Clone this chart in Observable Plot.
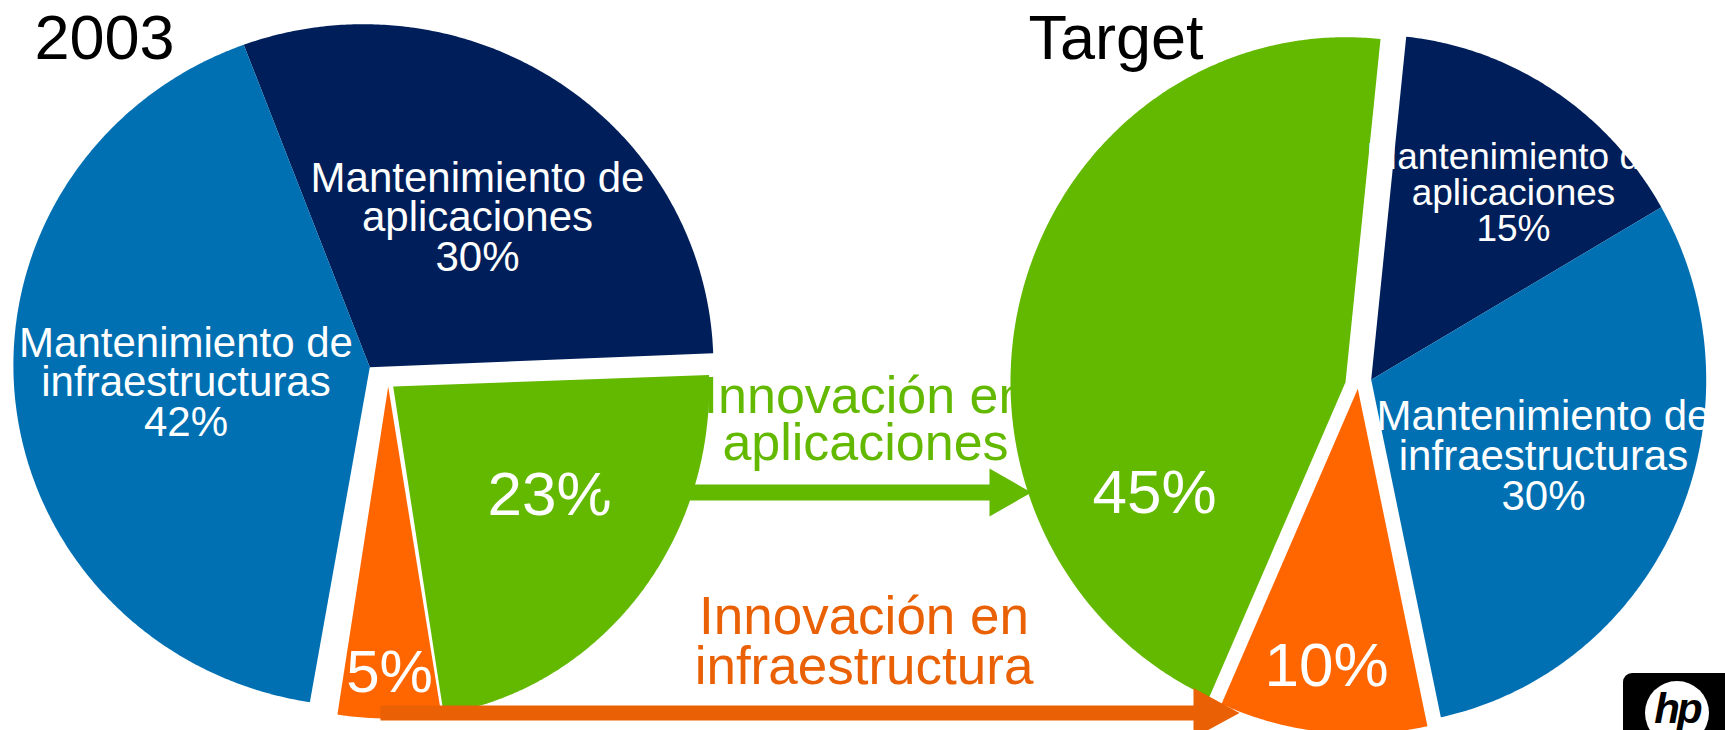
<!DOCTYPE html>
<html>
<head>
<meta charset="utf-8">
<script src="https://cdn.jsdelivr.net/npm/d3@7"></script>
<script src="https://cdn.jsdelivr.net/npm/@observablehq/plot@0.6"></script>
<style>
  html, body { margin: 0; padding: 0; background: #fff; overflow: hidden; }
  #chart { position: relative; width: 1725px; height: 730px; }
  #chart svg { display: block; }
  #logo { position: absolute; left: 1623px; top: 673px; width: 110px; height: 70px; background: #000; border-radius: 9px; overflow: hidden; }
  #logo .c { position: absolute; left: 22px; top: 8px; width: 64px; height: 64px; border-radius: 50%; background: #fff; }
  #logo .t { position: absolute; left: 22px; top: 12px; width: 64px; text-align: center; font: italic bold 42px "Liberation Sans", Arial, sans-serif; letter-spacing: -3px; color: #000; }
</style>
</head>
<body>
<div id="chart"></div>
<script>
// ---------------- data ----------------
const pieTitles = ["2003", "Target"];
const order2003 = ["Mantenimiento de aplicaciones", "Innovación en aplicaciones", "Innovación en infraestructura", "Mantenimiento de infraestructuras"];
const shares2003 = [30, 23, 5, 42];
const orderTarget = ["Mantenimiento de aplicaciones", "Mantenimiento de infraestructuras", "Innovación en infraestructura", "Innovación en aplicaciones"];
const sharesTarget = [15, 30, 10, 45];
const flowCategories = ["Innovación en aplicaciones", "Innovación en infraestructura"];

// ---------------- styles / layout ----------------
const W = 1725, H = 730;
const FONT = "'Liberation Sans', Arial, Helvetica, sans-serif";
const sliceColors = {
  "Mantenimiento de aplicaciones": "#001f5a",
  "Mantenimiento de infraestructuras": "#0070b3",
  "Innovación en aplicaciones": "#63b800",
  "Innovación en infraestructura": "#ff6600"
};
const flowColors = {
  "Innovación en aplicaciones": "#63b800",
  "Innovación en infraestructura": "#e96104"
};
// cx/cy: apex where the slices meet; ex/ey: offset of the ellipse centre from the apex
const pieLayout = {
  "2003": {cx: 369.3, cy: 366.7, ex: -6.4, ey: -2, rx: 350, ry: 341, start: -20, titleX: 34, titleY: 58,
    slice: {
      "Mantenimiento de aplicaciones": {dx: 0, dy: 0, label: [477, 191], size: 42, lh: 39.5, full: true},
      "Innovación en aplicaciones": {dx: 23.4, dy: 19.3, ex: 0, ey: 0, rx: 316, ry: 332, label: [549, 514], size: 62},
      "Innovación en infraestructura": {dx: 18.4, dy: 19.3, ex: 0, ey: 0, rx: 332, ry: 332, label: [389, 691], size: 60},
      "Mantenimiento de infraestructuras": {dx: 0, dy: 0, label: [185.5, 356], size: 42, lh: 39.5, full: true}
    }},
  "Target": {cx: 1370.7, cy: 379.3, ex: 0, ey: 0, rx: 335, ry: 345, start: 6, titleX: 1028, titleY: 58,
    slice: {
      "Mantenimiento de aplicaciones": {dx: 0, dy: 0, label: [1513, 168], size: 37, lh: 36, full: true},
      "Mantenimiento de infraestructuras": {dx: 0, dy: 0, label: [1543, 429], size: 42, lh: 40, full: true},
      "Innovación en infraestructura": {dx: -13.4, dy: 9, label: [1326, 685], size: 62},
      "Innovación en aplicaciones": {dx: -25.7, dy: 2.4, label: [1154, 512], size: 62}
    }}
};
const flowLayout = {
  "Innovación en aplicaciones": {textX: 865, textY: 412, size: 52, lh: 47, x1: 600, x2: 1031, y: 492, width: 16, headLen: 42, headHalf: 24},
  "Innovación en infraestructura": {textX: 863.5, textY: 633, size: 53, lh: 50, x1: 380, x2: 1239, y: 712.5, width: 15, headLen: 46, headHalf: 25}
};

const splitName = name => name.replace(/ (de|en) /, " $1\n").split("\n");

// ---------------- build geometry from data ----------------
const slicePts = [], labelRows = [], titleRows = [];
function buildPie(title, order, shares) {
  const L = pieLayout[title];
  const a0 = L.start * Math.PI / 180;
  const arcs = d3.pie().sort(null).value(d => d.v).startAngle(a0).endAngle(a0 + 2 * Math.PI)(order.map((c, i) => ({c, v: shares[i]})));
  arcs.forEach(a => {
    const S = L.slice[a.data.c];
    const ox = L.cx + S.dx, oy = L.cy + S.dy;
    const ex = S.ex ?? L.ex, ey = S.ey ?? L.ey;
    const rx = S.rx ?? L.rx, ry = S.ry ?? L.ry;
    const key = title + "|" + a.data.c;
    const fill = sliceColors[a.data.c];
    slicePts.push({key, x: ox, y: oy, fill});
    const n = Math.max(8, Math.ceil((a.endAngle - a.startAngle) * 180 / Math.PI * 2));
    for (let i = 0; i <= n; i++) {
      const t = a.startAngle + (a.endAngle - a.startAngle) * i / n;
      slicePts.push({key, x: ox + ex + rx * Math.sin(t), y: oy + ey - ry * Math.cos(t), fill});
    }
    const pct = `${a.data.v}%`;
    const lines = S.full ? [...splitName(a.data.c), pct] : [pct];
    const lh = S.lh || S.size;
    // y = baseline of the last line (lineAnchor "bottom")
    labelRows.push({x: S.label[0], y: S.label[1] + (lines.length - 1) * lh, text: lines.join("\n"), size: S.size, lhEm: lh / S.size});
  });
  titleRows.push({x: L.titleX, y: L.titleY, text: title});
}
buildPie(pieTitles[0], order2003, shares2003);
buildPie(pieTitles[1], orderTarget, sharesTarget);

const shafts = [], heads = [], flowText = [];
flowCategories.forEach(c => {
  const F = flowLayout[c], col = flowColors[c];
  shafts.push({x1: F.x1, x2: F.x2 - F.headLen + 1, y: F.y, w: F.width, col});
  heads.push({k: c, x: F.x2 - F.headLen, y: F.y - F.headHalf, col});
  heads.push({k: c, x: F.x2, y: F.y, col});
  heads.push({k: c, x: F.x2 - F.headLen, y: F.y + F.headHalf, col});
  const lines = splitName(c);
  flowText.push({x: F.textX, y: F.textY + (lines.length - 1) * F.lh, text: lines.join("\n"), size: F.size, lhEm: F.lh / F.size, col});
});

// texts sharing the same line height go into one mark each
const byLh = rows => d3.groups(rows, d => d.lhEm);

const plot = Plot.plot({
  width: W, height: H, margin: 0,
  x: {domain: [0, W], range: [0, W], axis: null},
  y: {domain: [0, H], range: [0, H], axis: null},
  color: {type: "identity"},
  style: {fontFamily: FONT, background: "white", overflow: "hidden"},
  marks: [
    Plot.line(slicePts, {x: "x", y: "y", z: "key", fill: "fill", stroke: "none", curve: "linear-closed"}),
    ...byLh(labelRows).map(([lhEm, rows]) =>
      Plot.text(rows, {x: "x", y: "y", text: "text", fontSize: "size", fill: "white", textAnchor: "middle", lineAnchor: "bottom", lineHeight: lhEm})),
    Plot.text(titleRows, {x: "x", y: "y", text: "text", fontSize: 63, fill: "black", textAnchor: "start", lineAnchor: "bottom"}),
    ...byLh(flowText).map(([lhEm, rows]) =>
      Plot.text(rows, {x: "x", y: "y", text: "text", fontSize: "size", fill: "col", textAnchor: "middle", lineAnchor: "bottom", lineHeight: lhEm})),
    Plot.link(shafts, {x1: "x1", x2: "x2", y1: "y", y2: "y", stroke: "col", strokeWidth: "w"}),
    Plot.line(heads, {x: "x", y: "y", z: "k", fill: "col", stroke: "none", curve: "linear-closed"})
  ]
});
const chart = document.getElementById("chart");
chart.appendChild(plot);
const logo = document.createElement("div");
logo.id = "logo";
logo.innerHTML = '<div class="c"></div><div class="t">hp</div>';
chart.appendChild(logo);
</script>
</body>
</html>
